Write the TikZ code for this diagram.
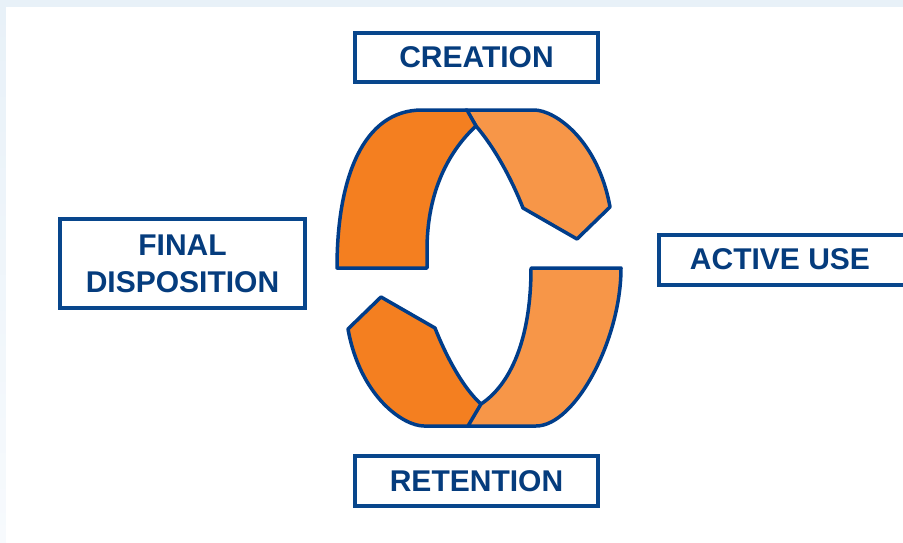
\documentclass[tikz,border=0pt]{standalone}
\usepackage{fontspec}
\setmainfont{Liberation Sans}
\definecolor{bgblue}{RGB}{232,241,248}
\definecolor{bgfade}{RGB}{247,250,253}
\definecolor{ringline}{RGB}{0,61,138}
\definecolor{darkor}{RGB}{244,127,32}
\definecolor{lightor}{RGB}{247,150,72}
\definecolor{boxline}{RGB}{8,70,140}
\definecolor{txtblue}{RGB}{5,60,125}
\begin{document}
\begin{tikzpicture}[x=1pt,y=-1pt,
  ringpart/.style={draw=ringline, line width=3.5pt, line join=round},
  boxnode/.style={draw=boxline, line width=4pt, fill=white, inner sep=0pt,
    text=txtblue, font=\fontsize{30}{37}\selectfont\bfseries, align=center},
  lbl/.style={inner sep=0pt, text=txtblue, font=\fontsize{30}{37}\selectfont\bfseries}]
\useasboundingbox (0,0) rectangle (903,542);
\clip (0,0) rectangle (903,542);
% background
\fill[bgblue] (0,0) rectangle (903,7);
\shade[top color=bgblue, bottom color=bgfade] (0,7) rectangle (6,542);
\fill[white] (6,7) rectangle (903,542);
% ring: upper half
\filldraw[ringpart, fill=lightor] (466,110) -- (534,110)
  .. controls (555,110) and (598,140) .. (610,207) -- (577,239) -- (523,208)
  .. controls (512,180) and (495,148) .. (476,126) -- cycle;
\filldraw[ringpart, fill=darkor] (337,268) -- (427,268) -- (427,250)
  .. controls (427,190) and (450,150) .. (476,126) -- (467,110) -- (422,110)
  .. controls (363,110) and (337,178) .. (337,268) -- cycle;
% ring: lower half
\filldraw[ringpart, fill=darkor] (424,426)
  .. controls (403,426) and (360,396) .. (348,329) -- (381,297) -- (435,328)
  .. controls (446,356) and (463,388) .. (481,404) -- (492,426) -- cycle;
\filldraw[ringpart, fill=lightor] (621,268) -- (531,268)
  .. controls (531,340) and (510,385) .. (481,404) -- (468,426) -- (536,426)
  .. controls (575,426) and (621,340) .. (621,268) -- cycle;
% labels
\node[boxnode, minimum width=243pt, minimum height=49pt] (creation) at (476.5,57.5) {CREATION};
\node[boxnode, minimum width=243pt, minimum height=50pt] (retention) at (476.5,481) {RETENTION};
\node[boxnode, minimum width=245pt, minimum height=89pt] (finaldisp) at (182.5,263.5) {FINAL\\DISPOSITION};
\node[boxnode, minimum width=270pt, minimum height=50pt] (activebox) at (794,260) {};
\node[lbl] (activetxt) at (780,259) {ACTIVE USE};
\end{tikzpicture}
\end{document}
